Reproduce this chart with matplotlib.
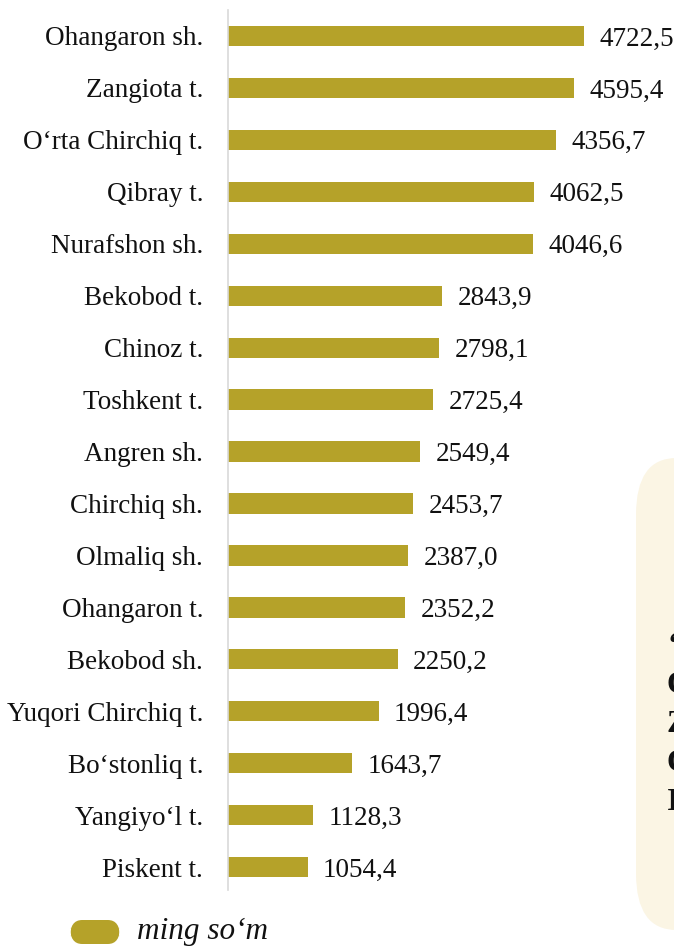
import matplotlib
matplotlib.use("Agg")
import matplotlib.pyplot as plt
from matplotlib.patches import FancyBboxPatch

# districts / cities and values (ming so'm)
districts = ["Ohangaron sh.", "Zangiota t.", "O‘rta Chirchiq t.", "Qibray t.",
             "Nurafshon sh.", "Bekobod t.", "Chinoz t.", "Toshkent t.",
             "Angren sh.", "Chirchiq sh.", "Olmaliq sh.", "Ohangaron t.",
             "Bekobod sh.", "Yuqori Chirchiq t.", "Bo‘stonliq t.",
             "Yangiyo‘l t.", "Piskent t."]
values = [4722.5, 4595.4, 4356.7, 4062.5, 4046.6, 2843.9, 2798.1, 2725.4,
          2549.4, 2453.7, 2387.0, 2352.2, 2250.2, 1996.4, 1643.7, 1128.3,
          1054.4]
legend_label = "ming so‘m"
side_lines = ["‘", "O", "Z", "O", "I"]

bar_color = "#B5A229"
plt.rcParams['font.family'] = ['Liberation Serif', 'DejaVu Serif']

fig = plt.figure(figsize=(6.74, 9.46), dpi=100)
W, H = 674, 946

# cream box on the right, cut by the figure edge
box = FancyBboxPatch((636 / W, 16 / H), 120 / W, 472 / H,
                     boxstyle="round,pad=0,rounding_size=0.06",
                     transform=fig.transFigure, facecolor="#FBF5E4",
                     edgecolor="none", zorder=0)
fig.patches.append(box)
for i, s in enumerate(side_lines):
    fig.text(667 / W, 1 - (643 + i * 39) / H, s, fontsize=23,
             fontweight="bold", va="center_baseline", ha="left",
             color="#111111")

ax = fig.add_axes([228 / W, 1 - 890 / H, (W - 228) / W, 880 / H])
ax.set_facecolor("none")
pos = list(range(len(districts)))
ax.barh(pos, values, height=0.39, color=bar_color, zorder=2)
ax.set_xlim(0, (W - 228) / 0.0754)
ax.set_ylim(16.44, -0.5)
ax.set_yticks(pos)
ax.set_yticklabels(districts, fontsize=19.5, color="#111111",
                   va="center_baseline")
ax.tick_params(axis="y", length=0, pad=18)
ax.set_xticks([])
for sp in ["top", "right", "bottom"]:
    ax.spines[sp].set_visible(False)
ax.spines["left"].set_color("#D9D9D9")
ax.spines["left"].set_linewidth(1.2)

for p, v in zip(pos, values):
    ax.annotate(f"{v:.1f}".replace(".", ","), (v, p), xytext=(11, 0),
                textcoords="offset points", va="center_baseline", ha="left",
                fontsize=19.5, color="#111111")

# legend
leg = FancyBboxPatch((70 / W, 1 - 944 / H), 50 / W, 24 / H,
                     boxstyle="round,pad=0,rounding_size=0.018",
                     transform=fig.transFigure, facecolor=bar_color,
                     edgecolor="none")
fig.patches.append(leg)
fig.text(137 / W, 1 - 931 / H, legend_label, fontsize=22.5, style="italic",
         va="center", ha="left", color="#111111")

fig.savefig("out.png", dpi=100)
